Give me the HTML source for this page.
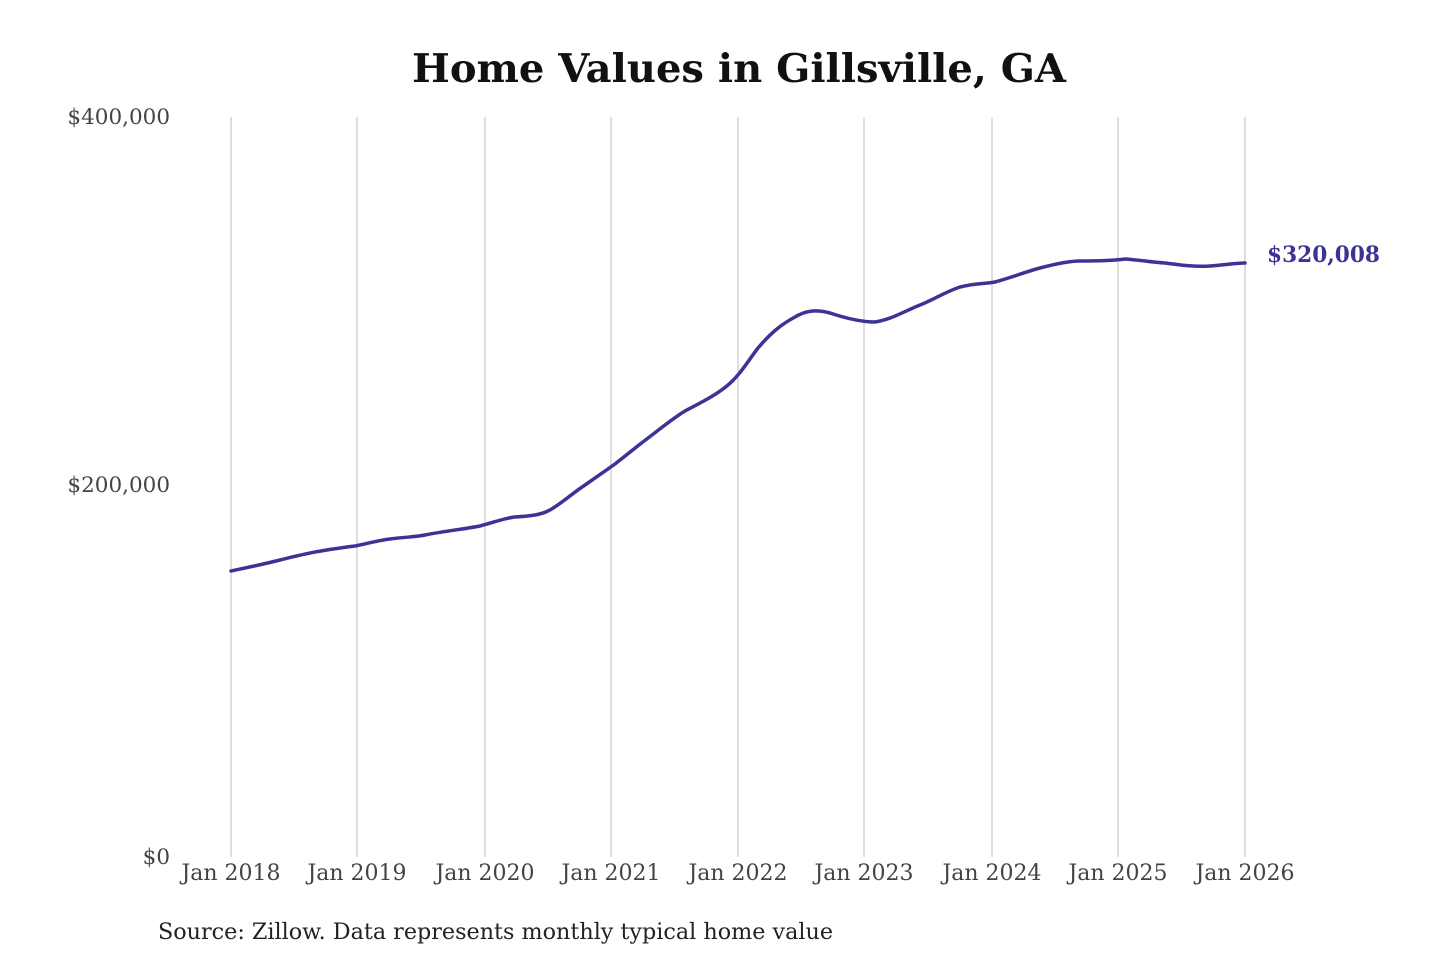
<!DOCTYPE html>
<html><head><meta charset="utf-8"><style>
html,body{margin:0;padding:0;background:#fff;width:1440px;height:960px;overflow:hidden}
svg text{font-family:"DejaVu Serif","Liberation Serif",serif}
</style></head><body>
<svg width="1440" height="960" viewBox="0 0 1440 960" xmlns="http://www.w3.org/2000/svg">
<text x="412" y="82" font-size="39" font-weight="bold" fill="#111" textLength="654" lengthAdjust="spacingAndGlyphs">Home Values in Gillsville, GA</text>
<g stroke="#c8c8c8" stroke-width="1.2">
<line x1="231" y1="117" x2="231" y2="857"/><line x1="357" y1="117" x2="357" y2="857"/>
<line x1="485" y1="117" x2="485" y2="857"/><line x1="611" y1="117" x2="611" y2="857"/>
<line x1="738" y1="117" x2="738" y2="857"/><line x1="864" y1="117" x2="864" y2="857"/>
<line x1="992" y1="117" x2="992" y2="857"/><line x1="1118" y1="117" x2="1118" y2="857"/>
<line x1="1245" y1="117" x2="1245" y2="857"/>
</g>
<g font-size="21.5" fill="#444" text-anchor="end">
<text x="170" y="124">$400,000</text>
<text x="170" y="492">$200,000</text>
<text x="170" y="864">$0</text>
</g>
<g font-size="22" fill="#444" text-anchor="middle">
<text x="231" y="880">Jan 2018</text><text x="357" y="880">Jan 2019</text>
<text x="485" y="880">Jan 2020</text><text x="611" y="880">Jan 2021</text>
<text x="738" y="880">Jan 2022</text><text x="864" y="880">Jan 2023</text>
<text x="992" y="880">Jan 2024</text><text x="1118" y="880">Jan 2025</text>
<text x="1245" y="880">Jan 2026</text>
</g>
<path fill="none" stroke="#3b3495" stroke-width="3.5" stroke-linejoin="round" stroke-linecap="round"
d="M231,571 C245,568 260,565 280,560 C300,555 315,551 355,546 C370,543 380,540 390,539 C405,537 415,537 425,535 C445,531 465,529 480,526 C495,522 505,518 515,517 C530,516 540,515 548,511 C560,505 570,495 585,485 C598,476 605,471 615,464 C630,452 640,444 652,435 C665,425 675,417 685,411 C700,403 715,396 728,385 C740,375 748,361 758,348 C770,334 780,325 795,317 C805,311 815,309 830,313 C845,318 860,322 875,322 C890,320 905,311 920,305 C935,299 945,292 960,287 C975,283 985,284 995,282 C1010,278 1025,272 1040,268 C1055,264 1070,261 1080,261 C1095,261 1110,261 1125,259 C1140,260 1150,262 1165,263 C1180,265 1195,267 1210,266 C1225,265 1235,263 1245,263"/>
<text x="1267" y="262" font-size="22" font-weight="bold" fill="#3b3495" textLength="113" lengthAdjust="spacingAndGlyphs">$320,008</text>
<text x="158" y="939" font-size="22" fill="#222" textLength="675" lengthAdjust="spacingAndGlyphs">Source: Zillow. Data represents monthly typical home value</text>
</svg>
</body></html>
